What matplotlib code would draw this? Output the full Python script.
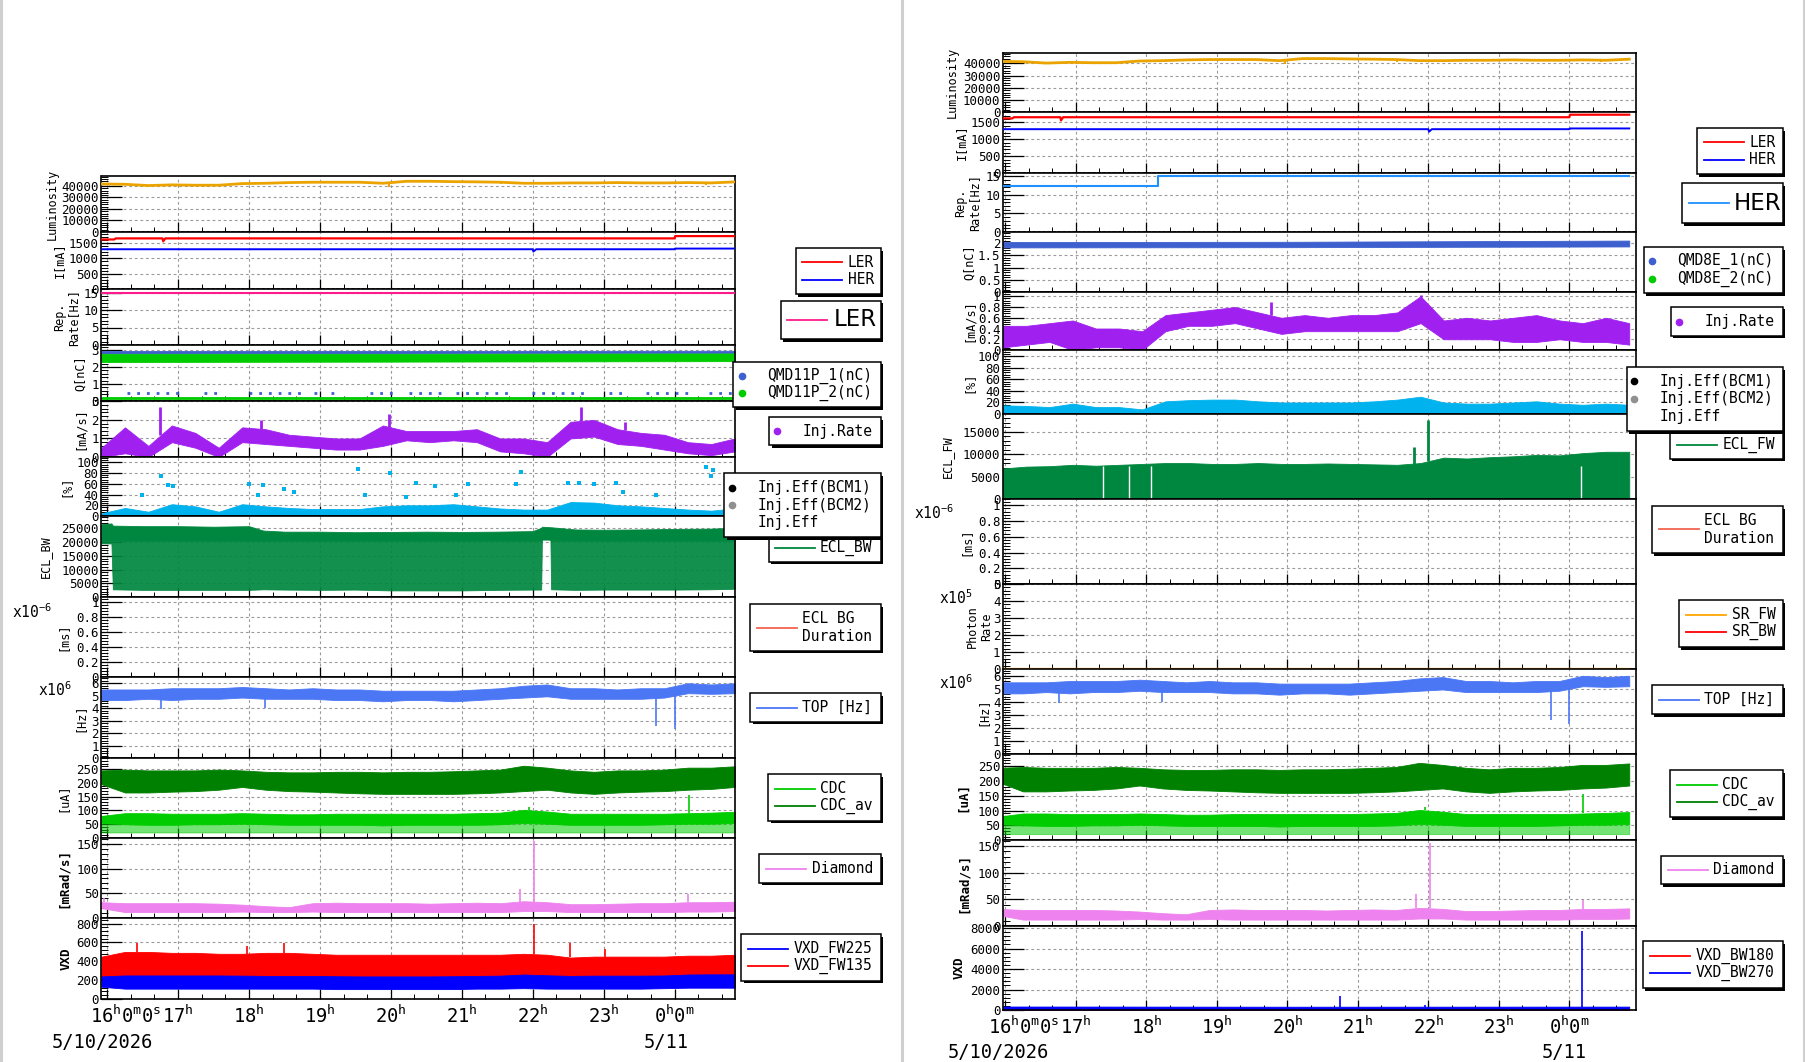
import numpy as np
import matplotlib
matplotlib.use("Agg")
import matplotlib.pyplot as plt
from matplotlib.patches import Rectangle
from matplotlib.lines import Line2D
from matplotlib.ticker import AutoMinorLocator, MultipleLocator

# ======================= DATA =======================
# time grids (hours since 5/10 0:00; 24 = 5/11 0:00)
t_left = np.linspace(15.92, 24.85, 28)
t_right = np.linspace(15.97, 24.85, 28)

# --- shared machine / detector data ---
luminosity = [41700, 41400, 40300, 40900, 40600, 40600, 42000, 42300, 42900, 43200,
              43200, 43200, 42300, 44000, 44000, 43700, 43500, 43200, 42300, 42300,
              42600, 42600, 42900, 42600, 42600, 42900, 42600, 43500]
lum_dip_t = [16.78, 17.38, 19.97, 21.55, 21.85, 23.82, 24.45]
lum_dip_v = [39800, 40000, 39300, 41300, 41400, 41600, 40800]

ler_cur_t = [15.92, 16.10, 16.12, 16.78, 16.79, 16.82, 24.00, 24.01, 24.85]
ler_cur_v = [1620, 1620, 1655, 1655, 1560, 1655, 1655, 1730, 1730]
her_cur_t = [15.92, 22.00, 22.01, 22.05, 24.00, 24.01, 24.85]
her_cur_v = [1300, 1300, 1225, 1300, 1300, 1322, 1322]

ler_rep_t = [15.92, 24.85]
ler_rep_v = [15.0, 15.0]
her_rep_t = [15.97, 18.17, 18.17, 24.85]
her_rep_v = [12.5, 12.5, 15.0, 15.0]

top_lo = [4.65, 4.65, 4.75, 4.65, 4.75, 4.75, 4.85, 4.75, 4.75, 4.75, 4.65, 4.65, 4.55, 4.65,
          4.65, 4.55, 4.65, 4.75, 4.85, 4.95, 4.75, 4.75, 4.75, 4.75, 4.85, 5.2, 5.15, 5.2]
top_hi = [5.5, 5.5, 5.5, 5.6, 5.6, 5.6, 5.7, 5.6, 5.5, 5.6, 5.5, 5.5, 5.4, 5.4,
          5.4, 5.4, 5.5, 5.6, 5.8, 5.9, 5.6, 5.6, 5.5, 5.6, 5.6, 6.0, 5.9, 6.0]
top_spike_t = [16.76, 18.22, 23.74, 24.00]
top_spike_v = [3.9, 4.0, 2.6, 2.3]

cdc_av_lo = [195, 165, 165, 168, 170, 175, 185, 175, 170, 168, 165, 162, 160, 160,
             160, 160, 162, 165, 170, 175, 165, 160, 165, 168, 170, 175, 178, 185]
cdc_av_hi = [245, 248, 245, 245, 245, 248, 245, 240, 238, 238, 240, 240, 238, 240,
             240, 242, 245, 248, 262, 255, 245, 240, 245, 245, 248, 255, 255, 260]
cdc_hi = [80, 90, 90, 88, 88, 88, 90, 88, 86, 86, 88, 88, 88, 88,
          88, 88, 90, 92, 102, 96, 88, 88, 88, 88, 88, 90, 92, 95]
cdc_mid = [55, 50, 48, 48, 50, 50, 52, 50, 48, 48, 48, 48, 46, 48,
           48, 48, 48, 50, 55, 52, 48, 48, 48, 48, 50, 52, 52, 55]
cdc_floor = 20
cdc_spike_t = [21.95, 24.20]
cdc_spike_v = [112, 155]

diamond_lo = [20, 12, 12, 12, 12, 12, 13, 12, 12, 13, 12, 12, 12, 12,
              12, 12, 12, 12, 14, 14, 12, 12, 12, 12, 12, 13, 13, 14]
diamond_hi = [32, 30, 30, 30, 30, 29, 27, 24, 22, 30, 31, 30, 30, 30,
              29, 30, 31, 30, 34, 32, 28, 28, 29, 30, 30, 32, 32, 33]
diamond_spike_t = [15.95, 21.82, 22.02, 24.19]
diamond_spike_v = [40, 59, 155, 49]

# --- LER (left) specific ---
qmd_t = [15.92, 20.0, 24.85]
qmd11p1_lo = [2.80, 2.80, 2.82]
qmd11p1_hi = [2.95, 2.95, 2.96]
qmd11p2_lo = [2.30, 2.32, 2.35]
qmd11p2_hi = [2.78, 2.78, 2.80]
qmd11p2_low_lo = [0.10, 0.10, 0.10]
qmd11p2_low_hi = [0.24, 0.24, 0.24]
qmd11p1_low_v = 0.47
qmd11p1_low_segs = [(16.28, 17.03), (17.36, 17.63), (18.0, 18.77), (18.92, 18.97),
                    (19.15, 19.2), (19.71, 20.05), (20.25, 20.72), (20.92, 21.69),
                    (21.99, 22.73), (23.07, 23.27), (23.6, 24.21), (24.48, 24.81)]

inj_rate_ler_lo = [0.0, 0.2, 0.0, 0.8, 0.5, 0.0, 0.8, 0.7, 0.6, 0.5, 0.4, 0.4, 0.6, 0.9,
                   0.8, 0.9, 0.8, 0.3, 0.2, 0.0, 1.0, 1.1, 0.7, 0.6, 0.4, 0.2, 0.1, 0.3]
inj_rate_ler_hi = [0.5, 1.6, 0.6, 1.7, 1.3, 0.5, 1.6, 1.5, 1.2, 1.1, 1.0, 1.0, 1.7, 1.4,
                   1.4, 1.4, 1.5, 1.0, 1.0, 0.8, 1.9, 2.0, 1.5, 1.3, 1.2, 0.8, 0.7, 1.0]
inj_rate_ler_spike_t = [16.75, 18.17, 19.97, 22.68, 23.30]
inj_rate_ler_spike_v = [2.7, 2.0, 2.3, 2.7, 1.9]

inj_eff_ler_hi = [5, 15, 8, 22, 18, 8, 22, 18, 15, 13, 13, 13, 18, 20,
                  20, 22, 18, 14, 12, 12, 26, 25, 20, 18, 15, 12, 10, 14]
inj_eff_ler_out_t = [16.49, 16.76, 16.86, 16.93, 18.0, 18.13, 18.2, 18.5, 18.64, 19.54,
                     19.64, 19.99, 20.21, 20.35, 20.62, 20.92, 21.09, 21.76, 21.83, 22.5,
                     22.66, 22.87, 23.17, 23.27, 23.74, 24.44, 24.51, 24.54]
inj_eff_ler_out_v = [40, 75, 58, 55, 60, 40, 58, 50, 45, 87, 40, 80, 35, 62, 55, 40, 60,
                     60, 82, 62, 62, 60, 62, 45, 40, 92, 75, 85]

ecl_bw_t = [15.92, 16.06, 16.08, 16.5, 17.0, 17.5, 18.0, 18.2, 18.5, 19.0, 19.5, 20.0,
            20.5, 21.0, 21.5, 22.0, 22.12, 22.13, 22.25, 22.26, 22.6, 23.0, 23.5, 24.0,
            24.5, 24.85]
ecl_bw_lo = [19500, 19500, 2800, 2600, 2600, 2600, 2600, 2800, 2700, 2600, 2700, 2400,
             2400, 2400, 2600, 2700, 2700, 21000, 21000, 2800, 2600, 2700, 2700, 2700,
             2800, 3000]
ecl_bw_hi = [26500, 26800, 26000, 25800, 25800, 25600, 25800, 24200, 23800, 23800, 23600,
             23700, 23800, 23700, 23800, 24000, 25200, 25600, 25400, 25400, 24600, 24500,
             24600, 24800, 24900, 25200]
ecl_bw_dense = 20500

vxd_fw135_lo = 200
vxd_fw135_hi = [450, 500, 500, 490, 490, 480, 480, 490, 490, 480, 470, 470, 470, 470,
                470, 470, 470, 470, 480, 470, 440, 450, 450, 450, 450, 460, 460, 470]
vxd_fw135_spike_t = [16.42, 17.97, 18.50, 22.02, 22.52, 23.02]
vxd_fw135_spike_v = [593, 568, 590, 800, 590, 530]
vxd_fw225_lo = [130, 110, 110, 110, 110, 110, 110, 110, 110, 110, 105, 105, 105, 105,
                105, 105, 110, 110, 115, 110, 110, 110, 110, 110, 115, 120, 120, 120]
vxd_fw225_hi = [240, 250, 250, 250, 250, 250, 248, 245, 245, 245, 242, 240, 240, 240,
                240, 242, 245, 248, 260, 252, 245, 248, 248, 248, 250, 260, 262, 262]

# --- HER (right) specific ---
qmd8e1_lo = [1.82, 1.83, 1.86]
qmd8e1_hi = [2.04, 2.05, 2.10]
qmd8e2_lo = [0.0, 0.0, 0.0]
qmd8e2_hi = [0.06, 0.06, 0.06]

inj_rate_her_lo = [0.05, 0.1, 0.15, 0.0, 0.05, 0.05, 0.0, 0.35, 0.45, 0.45, 0.5, 0.4, 0.3, 0.35,
                   0.35, 0.35, 0.35, 0.35, 0.5, 0.2, 0.2, 0.2, 0.15, 0.15, 0.2, 0.15, 0.15, 0.1]
inj_rate_her_hi = [0.45, 0.45, 0.5, 0.55, 0.4, 0.4, 0.35, 0.65, 0.7, 0.75, 0.8, 0.7, 0.6, 0.65,
                   0.6, 0.65, 0.65, 0.7, 1.0, 0.55, 0.6, 0.55, 0.6, 0.65, 0.55, 0.5, 0.6, 0.5]
inj_rate_her_spike_t = [19.77, 21.90]
inj_rate_her_spike_v = [0.9, 1.02]

inj_eff_her_hi = [15, 14, 12, 18, 12, 12, 8, 22, 24, 25, 25, 22, 20, 20,
                  20, 20, 22, 25, 30, 20, 18, 18, 20, 22, 18, 16, 18, 16]

ecl_fw_hi = [6800, 7200, 7300, 7600, 7400, 7600, 7800, 8000, 8000, 7800, 7800, 8000, 7800, 7800,
             7900, 7800, 7700, 7600, 8000, 9200, 9000, 9300, 9500, 9800, 9700, 10200, 10500, 10500]
ecl_fw_floor = 300
ecl_fw_spike_t = [21.80, 22.00]
ecl_fw_spike_v = [11500, 17500]
ecl_fw_gap_t = [17.38, 17.76, 18.06, 24.17]
ecl_fw_gap_top = 7300

sr_t = [15.97, 24.85]
sr_fw = [0.0, 0.0]
sr_bw = [0.0, 0.0]

vxd_t = [15.97, 20.0, 24.85]
vxd_bw180_hi = [120, 100, 100]
vxd_bw270_lo = [40, 40, 40]
vxd_bw270_hi = [340, 320, 330]
vxd_bw270_spike_t = [20.75, 21.95, 24.18]
vxd_bw270_spike_v = [1350, 500, 7700]

hour_ticks = [16, 17, 18, 19, 20, 21, 22, 23, 24]
hour_labels = [r'$16^{h}0^{m}0^{s}$', r'$17^{h}$', r'$18^{h}$', r'$19^{h}$', r'$20^{h}$',
               r'$21^{h}$', r'$22^{h}$', r'$23^{h}$', r'$0^{h}0^{m}$']

# ======================= STYLE =======================
plt.rcParams['font.family'] = ['DejaVu Sans Mono']
plt.rcParams['mathtext.fontset'] = 'custom'
plt.rcParams['mathtext.rm'] = 'DejaVu Sans Mono'
plt.rcParams['mathtext.it'] = 'DejaVu Sans Mono'
plt.rcParams['mathtext.bf'] = 'DejaVu Sans Mono:bold'

C_LUM = '#eba300'
C_LER = '#ff0000'
C_HER = '#0000ff'
C_LREP = '#ff1a8c'
C_HREP = '#1e90ff'
C_Q1 = '#3e60cf'
C_Q2 = '#00cc00'
C_RATE = '#a020f0'
C_EFF = '#00b2ee'
C_ECL = '#00873f'
C_BG = '#f2644f'
C_TOP = '#4b77f5'
C_CDC = '#00cc00'
C_CDCAV = '#008000'
C_DIA = '#ee82ee'
C_SRFW = '#ffa500'

W, H = 1806, 1062
fig = plt.figure(figsize=(W / 100, H / 100), dpi=100)
fig.patch.set_facecolor('white')


def fx(x):
    return x / W


def fy(y):
    return 1 - y / H


def fmt(v):
    return '%g' % v


def make_panel(x0, x1, ytop, ybot, xlim, ylim, yticks, dotted_bottom=False):
    ax = fig.add_axes([fx(x0), fy(ybot), (x1 - x0) / W, (ybot - ytop) / H])
    ax.set_xlim(*xlim)
    ax.set_ylim(*ylim)
    ax.set_yticks(yticks)
    ax.set_yticklabels([fmt(v) for v in yticks])
    ax.yaxis.set_minor_locator(AutoMinorLocator(5))
    ax.set_xticks(hour_ticks)
    ax.xaxis.set_minor_locator(MultipleLocator(1 / 3))
    ax.set_axisbelow(True)
    ax.grid(True, which='major', color='#9a9a9a', linestyle=(0, (2.5, 2.5)), linewidth=0.8)
    ax.tick_params(axis='y', which='major', direction='in', length=15, width=0.9,
                   labelsize=9, pad=2, right=False)
    ax.tick_params(axis='y', which='minor', direction='in', length=5, width=0.7, right=False)
    ax.tick_params(axis='x', which='major', direction='in', length=7, width=0.9,
                   labelbottom=False, top=False)
    ax.tick_params(axis='x', which='minor', direction='in', length=3.5, width=0.7, top=False)
    for s in ax.spines.values():
        s.set_linewidth(1.2)
    if dotted_bottom:
        ax.spines['bottom'].set_linestyle((0, (1.5, 1.5)))
    return ax


def band(ax, t, lo, hi, color, alpha=1.0, z=2):
    ax.fill_between(t, lo, hi, color=color, linewidth=0.6, alpha=alpha, zorder=z)


def spikes(ax, t, v, base_t, base_v, color, lw=1.2, z=3):
    base = np.interp(t, base_t, base_v)
    ax.vlines(t, base, v, color=color, linewidth=lw, zorder=z)


def bottom_labels(ax, date_left_px, date_right_px, date_y):
    for h, lab in zip(hour_ticks, hour_labels):
        dx = 13 if h == 16 else 0
        ax.annotate(lab, xy=(h, 0), xycoords=('data', 'axes fraction'), xytext=(dx, -4),
                    textcoords='offset points', ha='center', va='top', fontsize=13.5)
    fig.text(fx(date_left_px), fy(date_y), '5/10/2026', ha='left', va='center', fontsize=13.5)
    fig.text(fx(date_right_px), fy(date_y), '5/11', ha='left', va='center', fontsize=13.5)


def ylabel(xpx, ytop, ybot, text, bold=False, size=8.5):
    fig.text(fx(xpx), fy((ytop + ybot) / 2), text, rotation=90, ha='center', va='center',
             fontsize=size, fontweight='bold' if bold else 'normal', multialignment='center',
             linespacing=1.1)


def legend_box(x0, y0, x1, y1, entries, sym, tx, size=10.5, family='DejaVu Sans Mono', z=20):
    fig.add_artist(Rectangle((fx(x0 + 2.5), fy(y1 + 2.5)), (x1 - x0) / W, (y1 - y0) / H,
                             transform=fig.transFigure, facecolor='black', edgecolor='none',
                             zorder=z))
    fig.add_artist(Rectangle((fx(x0), fy(y1)), (x1 - x0) / W, (y1 - y0) / H,
                             transform=fig.transFigure, facecolor='white', edgecolor='black',
                             linewidth=1.1, zorder=z + 0.1))
    n = len(entries)
    for i, (kind, color, label) in enumerate(entries):
        yc = (y0 + y1) / 2 + (i - (n - 1) / 2) * 17.7
        if kind == 'line':
            fig.add_artist(Line2D([fx(sym[0]), fx(sym[1])], [fy(yc), fy(yc)],
                                  transform=fig.transFigure, color=color, linewidth=1.3,
                                  zorder=z + 0.2))
        elif kind == 'marker':
            fig.add_artist(Line2D([fx(sym)], [fy(yc)], transform=fig.transFigure, color=color,
                                  marker='o', markersize=4.5, linestyle='none', zorder=z + 0.2))
        fig.text(fx(tx), fy(yc), label, ha='left', va='center', fontsize=size, family=family,
                 zorder=z + 0.3, linespacing=1.21)


# ======================= LEFT COLUMN (LER) =======================
LX0, LX1 = 101.5, 734.8
lb = [176, 232, 289, 345, 401, 457, 516, 597, 677, 758, 838, 918, 999]
lxl = (15.92, 24.85)

ax = make_panel(LX0, LX1, lb[0], lb[1], lxl, (0, 48600), [0, 10000, 20000, 30000, 40000], True)
ax.plot(t_left, luminosity, color=C_LUM, linewidth=2.0, zorder=3)
spikes(ax, lum_dip_t, lum_dip_v, t_left, luminosity, C_LUM, lw=1.5)
ylabel(52, lb[0], lb[1], 'Luminosity')

ax = make_panel(LX0, LX1, lb[1], lb[2], lxl, (0, 1864), [0, 500, 1000, 1500], True)
ax.plot(ler_cur_t, ler_cur_v, color=C_LER, linewidth=1.6, zorder=3)
ax.plot(her_cur_t, her_cur_v, color=C_HER, linewidth=1.4, zorder=3)
ylabel(59, lb[1], lb[2], 'I[mA]')

ax = make_panel(LX0, LX1, lb[2], lb[3], lxl, (0, 16), [0, 5, 10, 15], True)
ax.plot(ler_rep_t, ler_rep_v, color=C_LREP, linewidth=1.5, zorder=3)
ylabel(66.5, lb[2], lb[3], 'Rep.\nRate[Hz]')

ax = make_panel(LX0, LX1, lb[3], lb[4], lxl, (0, 3.3), [0, 1, 2, 3])
band(ax, qmd_t, qmd11p1_lo, qmd11p1_hi, C_Q1)
band(ax, qmd_t, qmd11p2_lo, qmd11p2_hi, C_Q2)
band(ax, qmd_t, qmd11p2_low_lo, qmd11p2_low_hi, C_Q2)
for a, b in qmd11p1_low_segs:
    ax.plot([a, b], [qmd11p1_low_v, qmd11p1_low_v], color=C_Q1, linewidth=2,
            linestyle=(0, (1, 2.5)), zorder=3)
ylabel(80, lb[3], lb[4], 'Q[nC]')

ax = make_panel(LX0, LX1, lb[4], lb[5], lxl, (0, 3.02), [0, 1, 2, 3])
band(ax, t_left, inj_rate_ler_lo, inj_rate_ler_hi, C_RATE)
spikes(ax, inj_rate_ler_spike_t, inj_rate_ler_spike_v, t_left, inj_rate_ler_hi, C_RATE, lw=2)
ylabel(80, lb[4], lb[5], '[mA/s]')

ax = make_panel(LX0, LX1, lb[5], lb[6], lxl, (0, 110), [0, 20, 40, 60, 80, 100])
band(ax, t_left, np.zeros(len(t_left)), inj_eff_ler_hi, C_EFF)
ax.scatter(inj_eff_ler_out_t, inj_eff_ler_out_v, s=8, marker='s', color=C_EFF, zorder=3,
           linewidths=0)
ylabel(66, lb[5], lb[6], '[%]')

ax = make_panel(LX0, LX1, lb[6], lb[7], lxl, (0, 29500), [0, 5000, 10000, 15000, 20000, 25000])
dense_lo = np.maximum(ecl_bw_lo, ecl_bw_dense)
band(ax, ecl_bw_t, dense_lo, ecl_bw_hi, C_ECL)
band(ax, ecl_bw_t, ecl_bw_lo, np.maximum(ecl_bw_lo, ecl_bw_dense), C_ECL, alpha=0.92)
ylabel(45, lb[6], lb[7], 'ECL_BW')

ax = make_panel(LX0, LX1, lb[7], lb[8], lxl, (0, 1.07), [0, 0.2, 0.4, 0.6, 0.8, 1.0])
ylabel(63, lb[7], lb[8], '[ms]')
fig.text(fx(12), fy(612), r'x10$^{-6}$', ha='left', va='center', fontsize=10.5)

ax = make_panel(LX0, LX1, lb[8], lb[9], lxl, (0, 6.5), [0, 1, 2, 3, 4, 5, 6])
band(ax, t_left, top_lo, top_hi, C_TOP)
spikes(ax, top_spike_t, top_spike_v, t_left, top_lo, C_TOP)
ylabel(80, lb[8], lb[9], '[Hz]')
fig.text(fx(38), fy(690), r'x10$^{6}$', ha='left', va='center', fontsize=10.5)

ax = make_panel(LX0, LX1, lb[9], lb[10], lxl, (0, 290), [0, 50, 100, 150, 200, 250])
band(ax, t_left, cdc_av_lo, cdc_av_hi, C_CDCAV)
band(ax, t_left, cdc_mid, cdc_hi, C_CDC)
band(ax, t_left, np.full(len(t_left), cdc_floor), cdc_mid, C_CDC, alpha=0.55)
spikes(ax, cdc_spike_t, cdc_spike_v, t_left, cdc_hi, C_CDC)
ylabel(63, lb[9], lb[10], '[uA]')

ax = make_panel(LX0, LX1, lb[10], lb[11], lxl, (0, 162), [0, 50, 100, 150])
band(ax, t_left, diamond_lo, diamond_hi, C_DIA)
spikes(ax, diamond_spike_t, diamond_spike_v, t_left, diamond_hi, C_DIA)
ylabel(63, lb[10], lb[11], '[mRad/s]', bold=True, size=9)

ax = make_panel(LX0, LX1, lb[11], lb[12], lxl, (0, 860), [0, 200, 400, 600, 800])
band(ax, t_left, np.full(len(t_left), vxd_fw135_lo), vxd_fw135_hi, C_LER)
spikes(ax, vxd_fw135_spike_t, vxd_fw135_spike_v, t_left, vxd_fw135_hi, C_LER)
band(ax, t_left, vxd_fw225_lo, vxd_fw225_hi, C_HER, z=2.5)
ylabel(66, lb[11], lb[12], 'VXD', bold=True, size=9)
bottom_labels(ax, 52, 644, 1043)

# ======================= RIGHT COLUMN (HER) =======================
RX0, RX1 = 1003.2, 1636.3
rb = [53, 112, 173, 232, 292, 350, 414, 499, 584, 669, 754, 840, 926, 1010]
rxl = (15.97, 24.95)

ax = make_panel(RX0, RX1, rb[0], rb[1], rxl, (0, 48600), [0, 10000, 20000, 30000, 40000], True)
ax.plot(t_left, luminosity, color=C_LUM, linewidth=2.0, zorder=3)
spikes(ax, lum_dip_t, lum_dip_v, t_left, luminosity, C_LUM, lw=1.5)
ylabel(952, rb[0], rb[1], 'Luminosity')

ax = make_panel(RX0, RX1, rb[1], rb[2], rxl, (0, 1810), [0, 500, 1000, 1500], True)
ax.plot(ler_cur_t, ler_cur_v, color=C_LER, linewidth=1.6, zorder=3)
ax.plot(her_cur_t, her_cur_v, color=C_HER, linewidth=1.4, zorder=3)
ylabel(961, rb[1], rb[2], 'I[mA]')

ax = make_panel(RX0, RX1, rb[2], rb[3], rxl, (0, 15.9), [0, 5, 10, 15], True)
ax.plot(her_rep_t, her_rep_v, color=C_HREP, linewidth=1.5, zorder=3)
ylabel(968, rb[2], rb[3], 'Rep.\nRate[Hz]')

ax = make_panel(RX0, RX1, rb[3], rb[4], rxl, (0, 2.45), [0, 0.5, 1, 1.5, 2])
band(ax, qmd_t, qmd8e1_lo, qmd8e1_hi, C_Q1)
band(ax, qmd_t, qmd8e2_lo, qmd8e2_hi, C_Q2)
ylabel(969, rb[3], rb[4], 'Q[nC]')

ax = make_panel(RX0, RX1, rb[4], rb[5], rxl, (0, 1.08), [0, 0.2, 0.4, 0.6, 0.8, 1.0])
band(ax, t_right, inj_rate_her_lo, inj_rate_her_hi, C_RATE)
spikes(ax, inj_rate_her_spike_t, inj_rate_her_spike_v, t_right, inj_rate_her_hi, C_RATE, lw=2)
ylabel(969, rb[4], rb[5], '[mA/s]')

ax = make_panel(RX0, RX1, rb[5], rb[6], rxl, (0, 111), [0, 20, 40, 60, 80, 100])
band(ax, t_right, np.zeros(len(t_right)), inj_eff_her_hi, C_EFF)
ylabel(969, rb[5], rb[6], '[%]')

ax = make_panel(RX0, RX1, rb[6], rb[7], rxl, (0, 18900), [0, 5000, 10000, 15000])
band(ax, t_right, np.full(len(t_right), ecl_fw_floor), ecl_fw_hi, C_ECL)
spikes(ax, ecl_fw_spike_t, ecl_fw_spike_v, t_right, ecl_fw_hi, C_ECL, lw=2)
ax.vlines(ecl_fw_gap_t, ecl_fw_floor, ecl_fw_gap_top, color='white', linewidth=1.0, zorder=2.6)
ylabel(947, rb[6], rb[7], 'ECL_FW')

ax = make_panel(RX0, RX1, rb[7], rb[8], rxl, (0, 1.08), [0, 0.2, 0.4, 0.6, 0.8, 1.0])
ylabel(966, rb[7], rb[8], '[ms]')
fig.text(fx(914), fy(513), r'x10$^{-6}$', ha='left', va='center', fontsize=10.5)

ax = make_panel(RX0, RX1, rb[8], rb[9], rxl, (0, 5.0), [0, 1, 2, 3, 4, 5])
ax.plot(sr_t, sr_bw, color=C_LER, linewidth=1.4, zorder=3, clip_on=False)
ax.plot(sr_t, sr_fw, color=C_SRFW, linewidth=1.6, zorder=3.1, clip_on=False)
ylabel(979.5, rb[8], rb[9], 'Photon\nRate')
fig.text(fx(939), fy(598), r'x10$^{5}$', ha='left', va='center', fontsize=10.5)

ax = make_panel(RX0, RX1, rb[9], rb[10], rxl, (0, 6.52), [0, 1, 2, 3, 4, 5, 6])
band(ax, t_left, top_lo, top_hi, C_TOP)
spikes(ax, top_spike_t, top_spike_v, t_left, top_lo, C_TOP)
ylabel(983, rb[9], rb[10], '[Hz]')
fig.text(fx(939), fy(683), r'x10$^{6}$', ha='left', va='center', fontsize=10.5)

ax = make_panel(RX0, RX1, rb[10], rb[11], rxl, (0, 292), [0, 50, 100, 150, 200, 250])
band(ax, t_left, cdc_av_lo, cdc_av_hi, C_CDCAV)
band(ax, t_left, cdc_mid, cdc_hi, C_CDC)
band(ax, t_left, np.full(len(t_left), cdc_floor), cdc_mid, C_CDC, alpha=0.55)
spikes(ax, cdc_spike_t, cdc_spike_v, t_left, cdc_hi, C_CDC)
ylabel(963, rb[10], rb[11], '[uA]', bold=True, size=9)

ax = make_panel(RX0, RX1, rb[11], rb[12], rxl, (0, 161), [0, 50, 100, 150])
band(ax, t_left, diamond_lo, diamond_hi, C_DIA)
spikes(ax, diamond_spike_t, diamond_spike_v, t_left, diamond_hi, C_DIA)
ylabel(963, rb[11], rb[12], '[mRad/s]', bold=True, size=9)

ax = make_panel(RX0, RX1, rb[12], rb[13], rxl, (0, 8200), [0, 2000, 4000, 6000, 8000])
band(ax, vxd_t, np.zeros(len(vxd_t)), vxd_bw180_hi, C_LER)
band(ax, vxd_t, vxd_bw270_lo, vxd_bw270_hi, C_HER, z=2.5)
spikes(ax, vxd_bw270_spike_t, vxd_bw270_spike_v, vxd_t, vxd_bw270_hi, C_HER)
ylabel(959, rb[12], rb[13], 'VXD', bold=True, size=9)
bottom_labels(ax, 948, 1542, 1053)

# ======================= LEGENDS =======================
# left
legend_box(795.7, 248.3, 881, 294, [('line', C_LER, 'LER'), ('line', C_HER, 'HER')],
           (802.3, 841.7), 847.7)
legend_box(780.7, 300.7, 881, 339.3, [('line', C_LREP, 'LER')], (787.3, 826.7), 833.3,
           size=16.5, family='DejaVu Sans')
legend_box(733.3, 361.7, 881, 407.3, [('marker', C_Q1, 'QMD11P_1(nC)'),
                                      ('marker', C_Q2, 'QMD11P_2(nC)')], 741.7, 766.7)
legend_box(769.3, 417.3, 881, 445.3, [('marker', C_RATE, 'Inj.Rate')], 777.3, 802.3)
legend_box(768.7, 533.3, 881, 561.7, [('line', C_ECL, 'ECL_BW')], (775, 815), 820)
legend_box(724.3, 473.3, 881, 537.3, [('marker', 'black', 'Inj.Eff(BCM1)'),
                                      ('marker', '#909090', 'Inj.Eff(BCM2)'),
                                      ('none', C_EFF, 'Inj.Eff')], 732.3, 757.7, z=21)
legend_box(750.3, 604.3, 881, 650.7, [('line', C_BG, 'ECL BG\nDuration')], (757, 796.7), 802.3)
legend_box(750.3, 693.3, 881, 721.7, [('line', C_TOP, 'TOP [Hz]')], (757, 796.7), 802.3)
legend_box(768.3, 774.3, 881, 820.7, [('line', C_CDC, 'CDC'), ('line', C_CDCAV, 'CDC_av')],
           (775, 815), 820)
legend_box(759.3, 854.3, 881, 882.7, [('line', C_DIA, 'Diamond')], (766, 806), 811.7)
legend_box(741.3, 934.3, 881, 980.7, [('line', C_HER, 'VXD_FW225'), ('line', C_LER, 'VXD_FW135')],
           (748, 788), 793.3)

# right
legend_box(1697, 128, 1783, 174, [('line', C_LER, 'LER'), ('line', C_HER, 'HER')],
           (1704, 1744), 1749.3)
legend_box(1682, 183, 1783, 223, [('line', C_HREP, 'HER')], (1689, 1729), 1734,
           size=16.5, family='DejaVu Sans')
legend_box(1644, 247, 1783, 293, [('marker', C_Q1, 'QMD8E_1(nC)'),
                                  ('marker', C_Q2, 'QMD8E_2(nC)')], 1652.3, 1677.3)
legend_box(1671, 307, 1783, 336, [('marker', C_RATE, 'Inj.Rate')], 1679.3, 1704.3)
legend_box(1670, 431, 1783, 459, [('line', C_ECL, 'ECL_FW')], (1677, 1717), 1722.3)
legend_box(1627, 367, 1783, 431, [('marker', 'black', 'Inj.Eff(BCM1)'),
                                  ('marker', '#909090', 'Inj.Eff(BCM2)'),
                                  ('none', C_EFF, 'Inj.Eff')], 1634, 1659.3, z=21)
legend_box(1652, 506, 1783, 553, [('line', C_BG, 'ECL BG\nDuration')], (1659, 1699), 1704.3)
legend_box(1679, 600, 1783, 647, [('line', C_SRFW, 'SR_FW'), ('line', C_LER, 'SR_BW')],
           (1686, 1726), 1731.7)
legend_box(1652, 685, 1783, 714, [('line', C_TOP, 'TOP [Hz]')], (1659, 1699), 1704.3)
legend_box(1670, 770, 1783, 817, [('line', C_CDC, 'CDC'), ('line', C_CDCAV, 'CDC_av')],
           (1677, 1717), 1722.3)
legend_box(1661, 856, 1783, 884, [('line', C_DIA, 'Diamond')], (1668, 1708), 1713.3)
legend_box(1643, 941, 1783, 988, [('line', C_LER, 'VXD_BW180'), ('line', C_HER, 'VXD_BW270')],
           (1650, 1690), 1695.7)

# canvas borders
for xb in (1.5, 902, 1804):
    fig.add_artist(Line2D([fx(xb), fx(xb)], [0, 1], transform=fig.transFigure,
                          color='#cfcfcf', linewidth=2.2, zorder=30))

fig.savefig('out.png', dpi=100, facecolor='white')
